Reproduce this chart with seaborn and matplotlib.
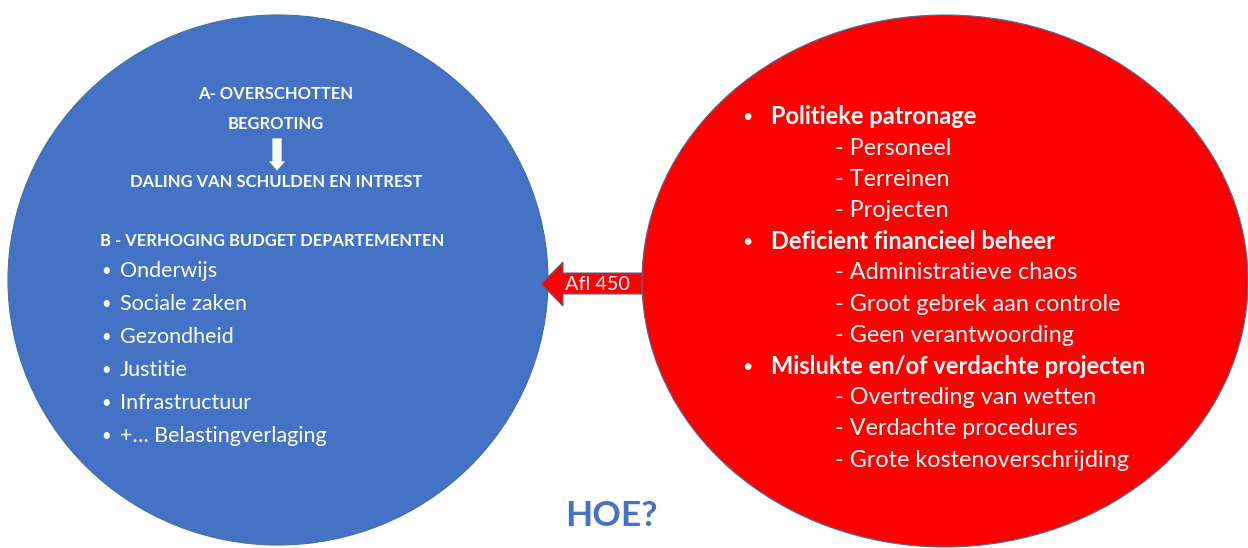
import matplotlib.pyplot as plt
import seaborn as sns
from matplotlib.patches import Ellipse, Polygon

# Text content
blue_headers = ['A- OVERSCHOTTEN', 'BEGROTING']
blue_result = 'DALING VAN SCHULDEN EN INTREST'
blue_title = 'B - VERHOGING BUDGET DEPARTEMENTEN'
blue_items = ['Onderwijs', 'Sociale zaken', 'Gezondheid', 'Justitie',
              'Infrastructuur', '+\u2026 Belastingverlaging']

red_groups = ['Politieke patronage', 'Deficient financieel beheer',
              'Mislukte en/of verdachte projecten']
red_items = [['Personeel', 'Terreinen', 'Projecten'],
             ['Administratieve chaos', 'Groot gebrek aan controle', 'Geen verantwoording'],
             ['Overtreding van wetten', 'Verdachte procedures', 'Grote kostenoverschrijding']]
arrow_label = 'Afl 450'
footer = 'HOE?'

BLUE = '#4472C4'
RED = '#FF0000'
EDGE = '#41719C'

sns.set_style('white')
plt.rcParams['font.family'] = ['Lato', 'DejaVu Sans']

W, H = 1248, 548
fig = plt.figure(figsize=(W / 100, H / 100), dpi=100)
ax = fig.add_axes([0, 0, 1, 1])
ax.set_xlim(0, W)
ax.set_ylim(H, 0)
ax.axis('off')

# Shapes
ax.add_patch(Ellipse((278, 280), 540, 530, facecolor=BLUE, edgecolor=EDGE, lw=0.8))
ax.add_patch(Ellipse((945, 281), 606, 532, facecolor=RED, edgecolor=EDGE, lw=0.8))

# Left-pointing arrow between shapes
arrow = Polygon([(642, 273), (563, 273), (563, 262), (541, 284),
                 (563, 306), (563, 294), (642, 294)],
                closed=True, facecolor=RED, edgecolor=EDGE, lw=0.8)
ax.add_patch(arrow)
ax.text(597, 285, arrow_label, color='white', fontsize=14.3,
        ha='center', va='center')

# Blue circle text
hdr = dict(color='white', fontsize=11.9, fontweight='bold', va='center')
ax.text(276, 94, blue_headers[0], ha='center', **hdr)
ax.text(276, 124, blue_headers[1], ha='center', **hdr)
ax.add_patch(Polygon([(272, 138), (282, 138), (282, 161), (286, 161),
                      (277, 171), (268, 161), (272, 161)],
                     closed=True, facecolor='white', edgecolor=EDGE, lw=0.5))
ax.text(276, 182, blue_result, ha='center', **hdr)
ax.text(100, 241, blue_title, ha='left', **hdr)
for i, item in enumerate(blue_items):
    y = 271 + i * 33
    ax.text(101, y, '\u2022', color='white', fontsize=12, ha='left', va='center')
    ax.text(120, y, item, color='white', fontsize=15.5, ha='left', va='center')

# Red ellipse text
y = 117
for group, items in zip(red_groups, red_items):
    ax.text(742, y, '\u2022', color='white', fontsize=13, ha='left', va='center')
    ax.text(771, y, group, color='white', fontsize=17, fontweight='bold',
            ha='left', va='center')
    y += 31.2
    for item in items:
        ax.text(835, y, '- ' + item, color='white', fontsize=16.8,
                ha='left', va='center')
        y += 31.2

ax.text(611, 516, footer, color=BLUE, fontsize=25.5, fontweight='bold',
        ha='center', va='center')

fig.savefig('out.png', dpi=100)
